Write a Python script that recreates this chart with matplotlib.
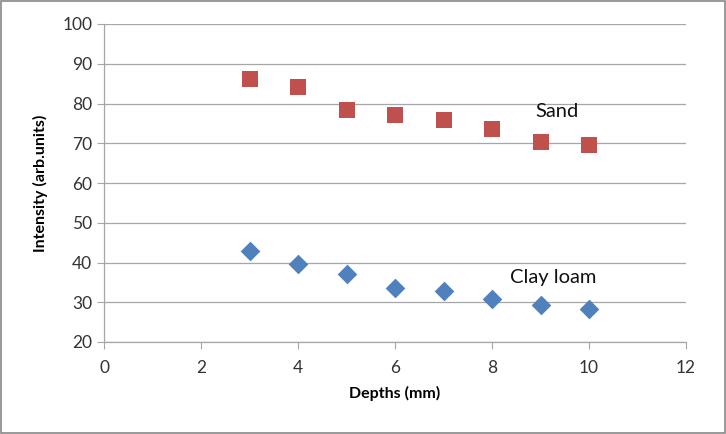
import matplotlib
matplotlib.use("Agg")
import matplotlib.pyplot as plt
from matplotlib.patches import Rectangle

depths = [3, 4, 5, 6, 7, 8, 9, 10]
sand = [86.2, 84.2, 78.4, 77.2, 75.8, 73.6, 70.4, 69.5]
clay_loam = [43.0, 39.6, 37.0, 33.6, 32.8, 30.7, 29.4, 28.3]
xticks = [0, 2, 4, 6, 8, 10, 12]
yticks = [20, 30, 40, 50, 60, 70, 80, 90, 100]

plt.rcParams['font.family'] = ['Lato', 'DejaVu Sans']

fig = plt.figure(figsize=(7.26, 4.34), dpi=100)
ax = fig.add_axes([104/726, 1-342/434, (686-104)/726, (342-24)/434])

ax.scatter(depths, sand, marker='s', s=11**2, color='#C0504D', zorder=3, linewidths=0)
ax.scatter(depths, clay_loam, marker='D', s=10**2, color='#4F81BD', zorder=3, linewidths=0)

ax.set_xlim(0, 12)
ax.set_ylim(20, 100)
ax.set_xticks(xticks)
ax.set_yticks(yticks)
ax.grid(axis='y', color='#A6A6A6', linewidth=0.9)
ax.set_axisbelow(True)
for s in ['top', 'right']:
    ax.spines[s].set_visible(False)
for s in ['left', 'bottom']:
    ax.spines[s].set_color('#A6A6A6')
    ax.spines[s].set_linewidth(0.9)
ax.tick_params(axis='both', direction='out', length=5, color='#A6A6A6', labelsize=12.5, labelcolor='#333333')
ax.tick_params(axis='x', pad=8)

ax.set_xlabel('Depths (mm)', fontsize=11.5, fontweight='bold', labelpad=7)
ax.set_ylabel('Intensity (arb.units)', fontsize=11.5, fontweight='bold', labelpad=10)

ax.text(9.34, 77.9, 'Sand', fontsize=14.5, ha='center', va='center', color='#111111')
ax.text(9.27, 36.3, 'Clay loam', fontsize=14.5, ha='center', va='center', color='#111111')

fig.patches.append(Rectangle((1/726, 1/434), 724/726, 432/434, transform=fig.transFigure,
                             fill=False, edgecolor='#888888', linewidth=1.2))

fig.savefig('out.png', dpi=100)
